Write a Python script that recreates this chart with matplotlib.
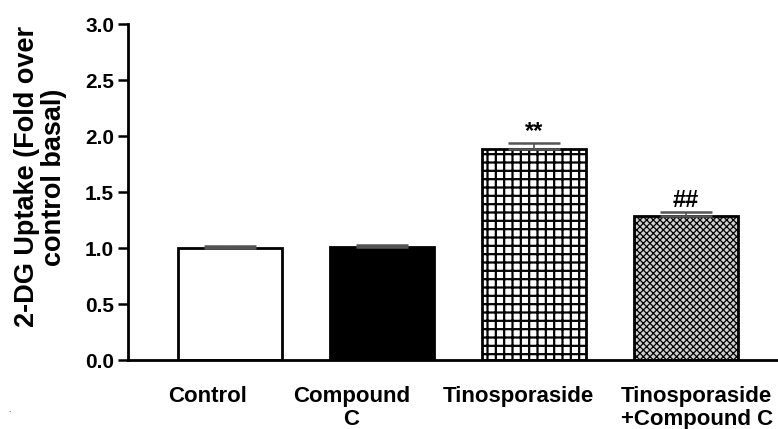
import matplotlib
matplotlib.use("Agg")
import matplotlib.pyplot as plt
import numpy as np

categories = ["Control", "Compound\nC", "Tinosporaside", "Tinosporaside\n+Compound C"]
values = [1.00, 1.01, 1.88, 1.29]
errors = [0.02, 0.02, 0.06, 0.035]
annotations = ["", "", "**", "##"]
yticks = [0.0, 0.5, 1.0, 1.5, 2.0, 2.5, 3.0]

plt.rcParams['font.family'] = ['Liberation Sans', 'DejaVu Sans']
plt.rcParams['font.weight'] = 'bold'

fig = plt.figure(figsize=(7.78, 4.29), dpi=100)
ax = fig.add_axes([128/778, (429-360)/429, 1 - 128/778, (360-24)/429])

x = np.arange(len(categories))
width = 0.68
label_shift = np.array([-0.15, -0.20, -0.10, 0.07])  # layout offsets of the tick labels
styles = [
    dict(facecolor='white', hatch=None, hlw=1.0),
    dict(facecolor='black', hatch=None, hlw=1.0),
    dict(facecolor='white', hatch='++', hlw=1.6),
    dict(facecolor='#d0d0d0', hatch='xxxxx', hlw=0.9),
]
for i in range(len(categories)):
    st = styles[i]
    plt.rcParams['hatch.linewidth'] = st['hlw']
    ax.bar(x[i], values[i], width=width, facecolor=st['facecolor'],
           edgecolor='black', linewidth=2.0, hatch=st['hatch'], zorder=2)
    ax.errorbar(x[i], values[i] + errors[i] / 2, yerr=[[errors[i] / 2], [errors[i] / 2]],
                fmt='none', ecolor='#555555', elinewidth=1.2, capsize=19, capthick=1.8, zorder=3)
    if annotations[i]:
        ax.text(x[i], values[i] + errors[i] - 0.005, annotations[i], ha='center', va='bottom',
                fontsize=17, fontweight='bold', color='black')

ax.set_xlim(-0.67, 3.605)
ax.set_ylim(0, 3.0)
ax.set_yticks(yticks)
ax.set_yticklabels([f"{t:.1f}" for t in yticks], fontsize=15, fontweight='bold')
ax.set_xticks(x + label_shift)
ax.set_xticklabels(categories, fontsize=16, fontweight='bold', linespacing=1.1)
ax.tick_params(axis='x', length=0, pad=19)
ax.tick_params(axis='y', length=7, width=1.8, direction='out', pad=3)
for s in ['top', 'right']:
    ax.spines[s].set_visible(False)
for s in ['left', 'bottom']:
    ax.spines[s].set_linewidth(2.0)

ax.set_ylabel("2-DG Uptake (Fold over\ncontrol basal)", fontsize=19.5, fontweight='bold',
              linespacing=1.05)
ax.yaxis.set_label_coords(-0.094, 0.545)
fig.text(8/778, 1 - 412/429, '.', fontsize=6, color='#555555')

fig.savefig("out.png", dpi=100)
